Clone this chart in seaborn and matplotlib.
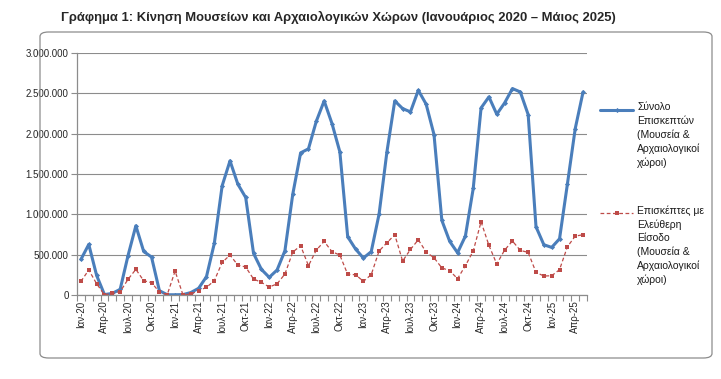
import matplotlib
matplotlib.use("Agg")

import numpy as np
import pandas as pd
import matplotlib.pyplot as plt
import seaborn as sns
from matplotlib.lines import Line2D
from matplotlib.patches import FancyBboxPatch
from matplotlib.ticker import FuncFormatter, MultipleLocator

# ── Data ──────────────────────────────────────────────────────────────────────
MONTHS_GR = ["Ιαν", "Φεβ", "Μαρ", "Απρ", "Μαϊ", "Ιουν",
             "Ιουλ", "Αυγ", "Σεπ", "Οκτ", "Νοε", "Δεκ"]
months = [f"{m}-{y:02d}" for y in range(20, 26) for m in MONTHS_GR][:65]

total_visitors = [
    441000, 627000, 243000, 5000, 20000, 70000,
    487000, 858000, 540000, 470000, 54000, 3000,
    3000, 5000, 30000, 83000, 227000, 640000,
    1354000, 1663000, 1374000, 1209000, 516000, 318000,
    219000, 310000, 549000, 1250000, 1762000, 1812000,
    2154000, 2406000, 2125000, 1775000, 722000, 570000,
    458000, 537000, 1003000, 1775000, 2406000, 2311000,
    2270000, 2538000, 2365000, 1989000, 925000, 665000,
    524000, 730000, 1321000, 2319000, 2456000, 2241000,
    2381000, 2559000, 2517000, 2237000, 846000, 623000,
    590000, 697000, 1374000, 2063000, 2517000,
]

free_visitors = [
    169000, 310000, 140000, 2000, 20000, 41000,
    194000, 318000, 177000, 153000, 37000, 4000,
    297000, 3000, 12000, 54000, 95000, 177000,
    404000, 495000, 371000, 347000, 198000, 157000,
    99000, 138000, 260000, 532000, 611000, 363000,
    557000, 664000, 537000, 495000, 256000, 252000,
    169000, 252000, 545000, 648000, 747000, 421000,
    565000, 685000, 532000, 462000, 336000, 301000,
    202000, 363000, 545000, 908000, 615000, 384000,
    557000, 669000, 553000, 528000, 281000, 235000,
    239000, 314000, 598000, 730000, 747000,
]

TITLE = "Γράφημα 1: Κίνηση Μουσείων και Αρχαιολογικών Χώρων (Ιανουάριος 2020 – Μάιος 2025)"
LABEL_TOTAL = "Σύνολο\nΕπισκεπτών\n(Μουσεία &\nΑρχαιολογικοί\nχώροι)"
LABEL_FREE = "Επισκέπτες με\nΕλεύθερη\nΕίσοδο\n(Μουσεία &\nΑρχαιολογικοί\nχώροι)"

BLUE = "#4A7EBB"
RED = "#BE4B48"

# ── Style ─────────────────────────────────────────────────────────────────────
sns.set_theme(style="white")
plt.rcParams["font.family"] = ["Liberation Sans", "DejaVu Sans"]

df = pd.DataFrame({
    "idx": np.arange(len(months)),
    "total": total_visitors,
    "free": free_visitors,
})

W, H = 721, 379
fig = plt.figure(figsize=(W / 100, H / 100), dpi=100)
fig.patch.set_facecolor("white")

# rounded chart-area border
border = FancyBboxPatch((40 / W, 1 - 358 / H), 672 / W, 326 / H,
                        boxstyle="round,pad=0,rounding_size=0.012",
                        transform=fig.transFigure, fill=False,
                        edgecolor="#8C8C8C", lw=0.9)
fig.add_artist(border)

ax = fig.add_axes([77 / W, 1 - 295 / H, 510 / W, 242 / H])

sns.lineplot(data=df, x="idx", y="total", ax=ax, color=BLUE, lw=2.2,
             marker="D", markersize=2.6, markeredgewidth=0)
sns.lineplot(data=df, x="idx", y="free", ax=ax, color=RED, lw=0.9,
             linestyle=(0, (3, 2)), marker="s", markersize=3.2,
             markeredgewidth=0)

ax.set_xlim(-0.5, len(months) - 0.5)
ax.set_ylim(0, 3000000)
ax.yaxis.set_major_locator(MultipleLocator(500000))
ax.yaxis.set_major_formatter(
    FuncFormatter(lambda v, _: f"{v:,.0f}".replace(",", ".")))
ax.grid(axis="y", color="#8C8C8C", lw=0.8)
ax.set_axisbelow(True)

ax.set_xticks(np.arange(0, len(months), 3))
ax.set_xticklabels(months[::3], rotation=90, fontsize=7)
ax.set_xticks(np.arange(-0.5, len(months), 1), minor=True)
ax.tick_params(axis="x", which="major", length=0, pad=4)
ax.tick_params(axis="x", which="minor", length=4, color="#8C8C8C", width=0.8,
               direction="out")
ax.tick_params(axis="y", labelsize=7, length=4, color="#8C8C8C", width=0.8,
               direction="out", pad=2)
ax.yaxis.set_tick_params(which="major", left=True)
ax.xaxis.set_tick_params(which="minor", bottom=True)

for side in ["top", "right"]:
    ax.spines[side].set_visible(False)
for side in ["left", "bottom"]:
    ax.spines[side].set_color("#8C8C8C")
    ax.spines[side].set_linewidth(0.9)

ax.set_xlabel("")
ax.set_ylabel("")

# ── Legend (drawn manually for multi-line labels) ─────────────────────────────
def legend_entry(y_px, color, lw, ls, marker, ms, label):
    y = 1 - y_px / H
    fig.add_artist(Line2D([600 / W, 633 / W], [y, y], color=color, lw=lw,
                          ls=ls, transform=fig.transFigure))
    fig.add_artist(Line2D([616.5 / W], [y], color=color, marker=marker,
                          ms=ms, mew=0, ls="none",
                          transform=fig.transFigure))
    fig.text(637 / W, y + 7.5 / H, label, fontsize=7.5, va="top", ha="left",
             linespacing=1.42, color="#1a1a1a")


legend_entry(110, BLUE, 2.2, "-", "D", 2.6, LABEL_TOTAL)
legend_entry(212.5, RED, 0.9, (0, (3, 2)), "s", 3.2, LABEL_FREE)

fig.text(338 / W, 1 - 17 / H, TITLE, fontsize=9.35, fontweight="bold",
         ha="center", va="center")

fig.savefig("out.png", dpi=100)
